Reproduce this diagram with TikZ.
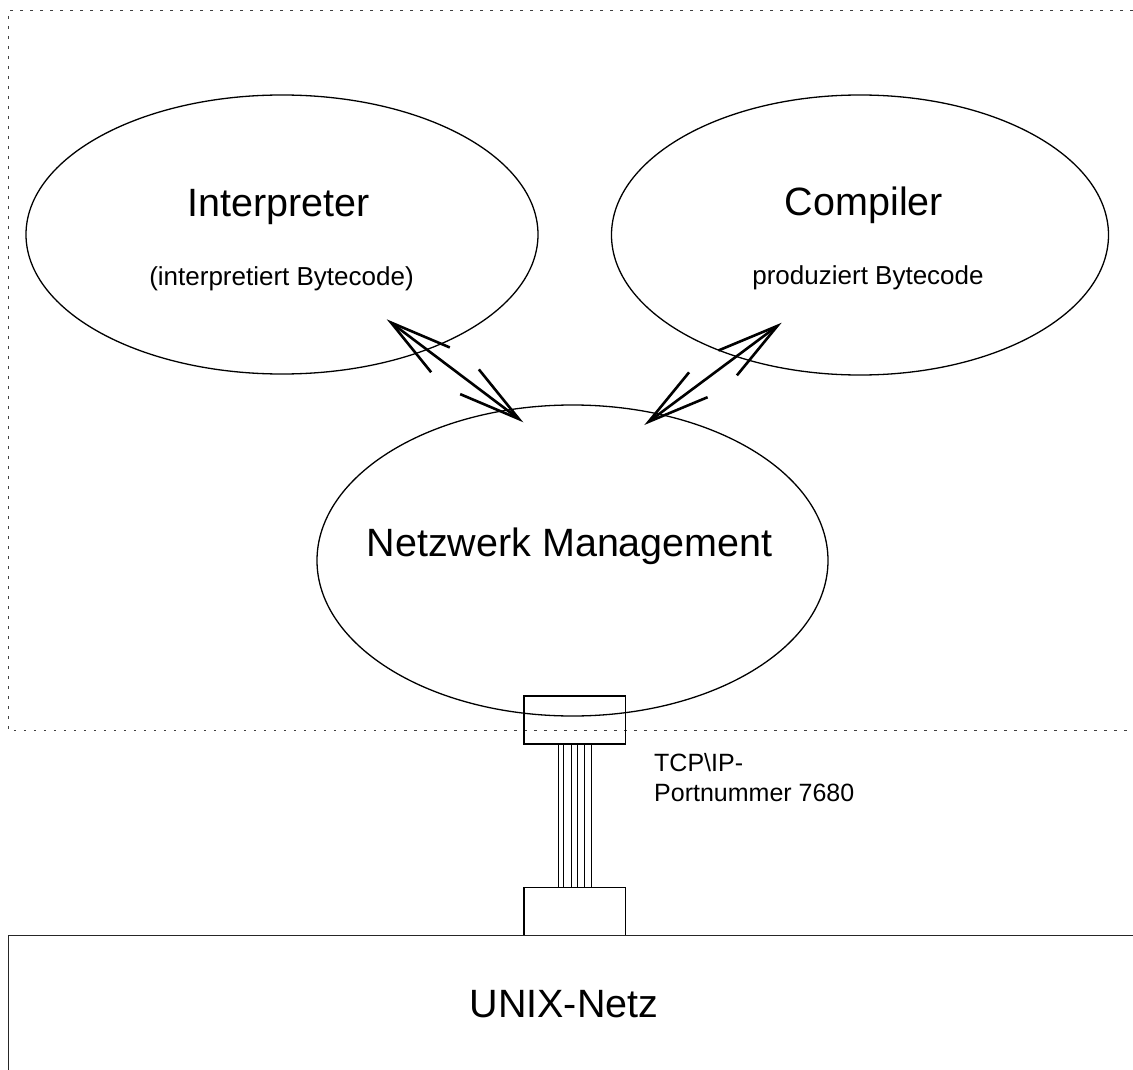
\documentclass[tikz,border=0pt]{standalone}
\usepackage{fontspec}
\setmainfont{Liberation Sans}
\usetikzlibrary{shapes.geometric,arrows.meta,calc}
\begin{document}
\begin{tikzpicture}[x=1pt,y=-1pt,
  oval/.style={draw,ellipse,line width=1.3pt,inner sep=0pt,outer sep=0pt},
  big/.style={font=\fontsize{39.5}{47}\selectfont,inner sep=0pt,anchor=base},
  small/.style={font=\fontsize{26}{31}\selectfont,inner sep=0pt,anchor=base},
  port/.style={font=\fontsize{25}{30}\selectfont,inner sep=0pt,anchor=base west},
  plug/.style={draw,rectangle,line width=1.1pt,inner sep=0pt,minimum width=101.7pt,minimum height=48pt},
  wire/.style={line width=1.1pt},
  dbl/.style={line width=2.6pt,{Straight Barb[length=62pt,width=31pt]}-{Straight Barb[length=62pt,width=31pt]}},
  frame/.style={draw=black!75,line width=1.3pt,dash pattern=on 2.7pt off 7.3pt},
  base/.style={line width=1.6pt,draw=black!85}]
\useasboundingbox (0,0) rectangle (1133,1070);
% dashed frame
\draw[frame] (1133,10.5) -- (8.5,10.5) -- (8.5,730.7) -- (1133,730.7);
% ellipses
\node[oval,minimum width=512pt,minimum height=279pt] (interp) at (282,234.5) {};
\node[oval,minimum width=497pt,minimum height=280pt] (comp) at (860,235) {};
\node[oval,minimum width=511pt,minimum height=311pt] (netz) at (572.5,560.5) {};
% labels
\node[big] (tinterp) at (278.5,216) {Interpreter};
\node[small] (sinterp) at (281.5,285) {(interpretiert Bytecode)};
\node[big] (tcomp) at (864,215) {Compiler};
\node[small] (scomp) at (868,284) {produziert Bytecode};
\node[big] (tnetz) at (569.7,556.7) {Netzwerk Management};
% arrows
\coordinate (i1) at (386.7,319.3);
\coordinate (i2) at (523.3,422.3);
\coordinate (c1) at (781.7,322.7);
\coordinate (c2) at (644.3,425);
\draw[dbl] (i1) -- (i2);
\draw[dbl] (c1) -- (c2);
% plugs and cable
\node[plug] (ptop) at (574.85,720) {};
\node[plug] (pbot) at (574.85,911.4) {};
\foreach \dx in {-16.5,-11.5,-3.2,2.5,9.5,16.2}
  \draw[wire] ($(ptop.south)+(\dx,0)$) -- ($(pbot.north)+(\dx,0)$);
\node[port] (tcp1) at (654,771) {TCP\textbackslash IP-};
\node[port] (tcp2) at (654,801) {Portnummer 7680};
% UNIX network
\draw[base] (8.5,1070) -- (8.5,935.5) -- (1133,935.5);
\node[big] (unix) at (564,1017) {UNIX-Netz};
\end{tikzpicture}
\end{document}
